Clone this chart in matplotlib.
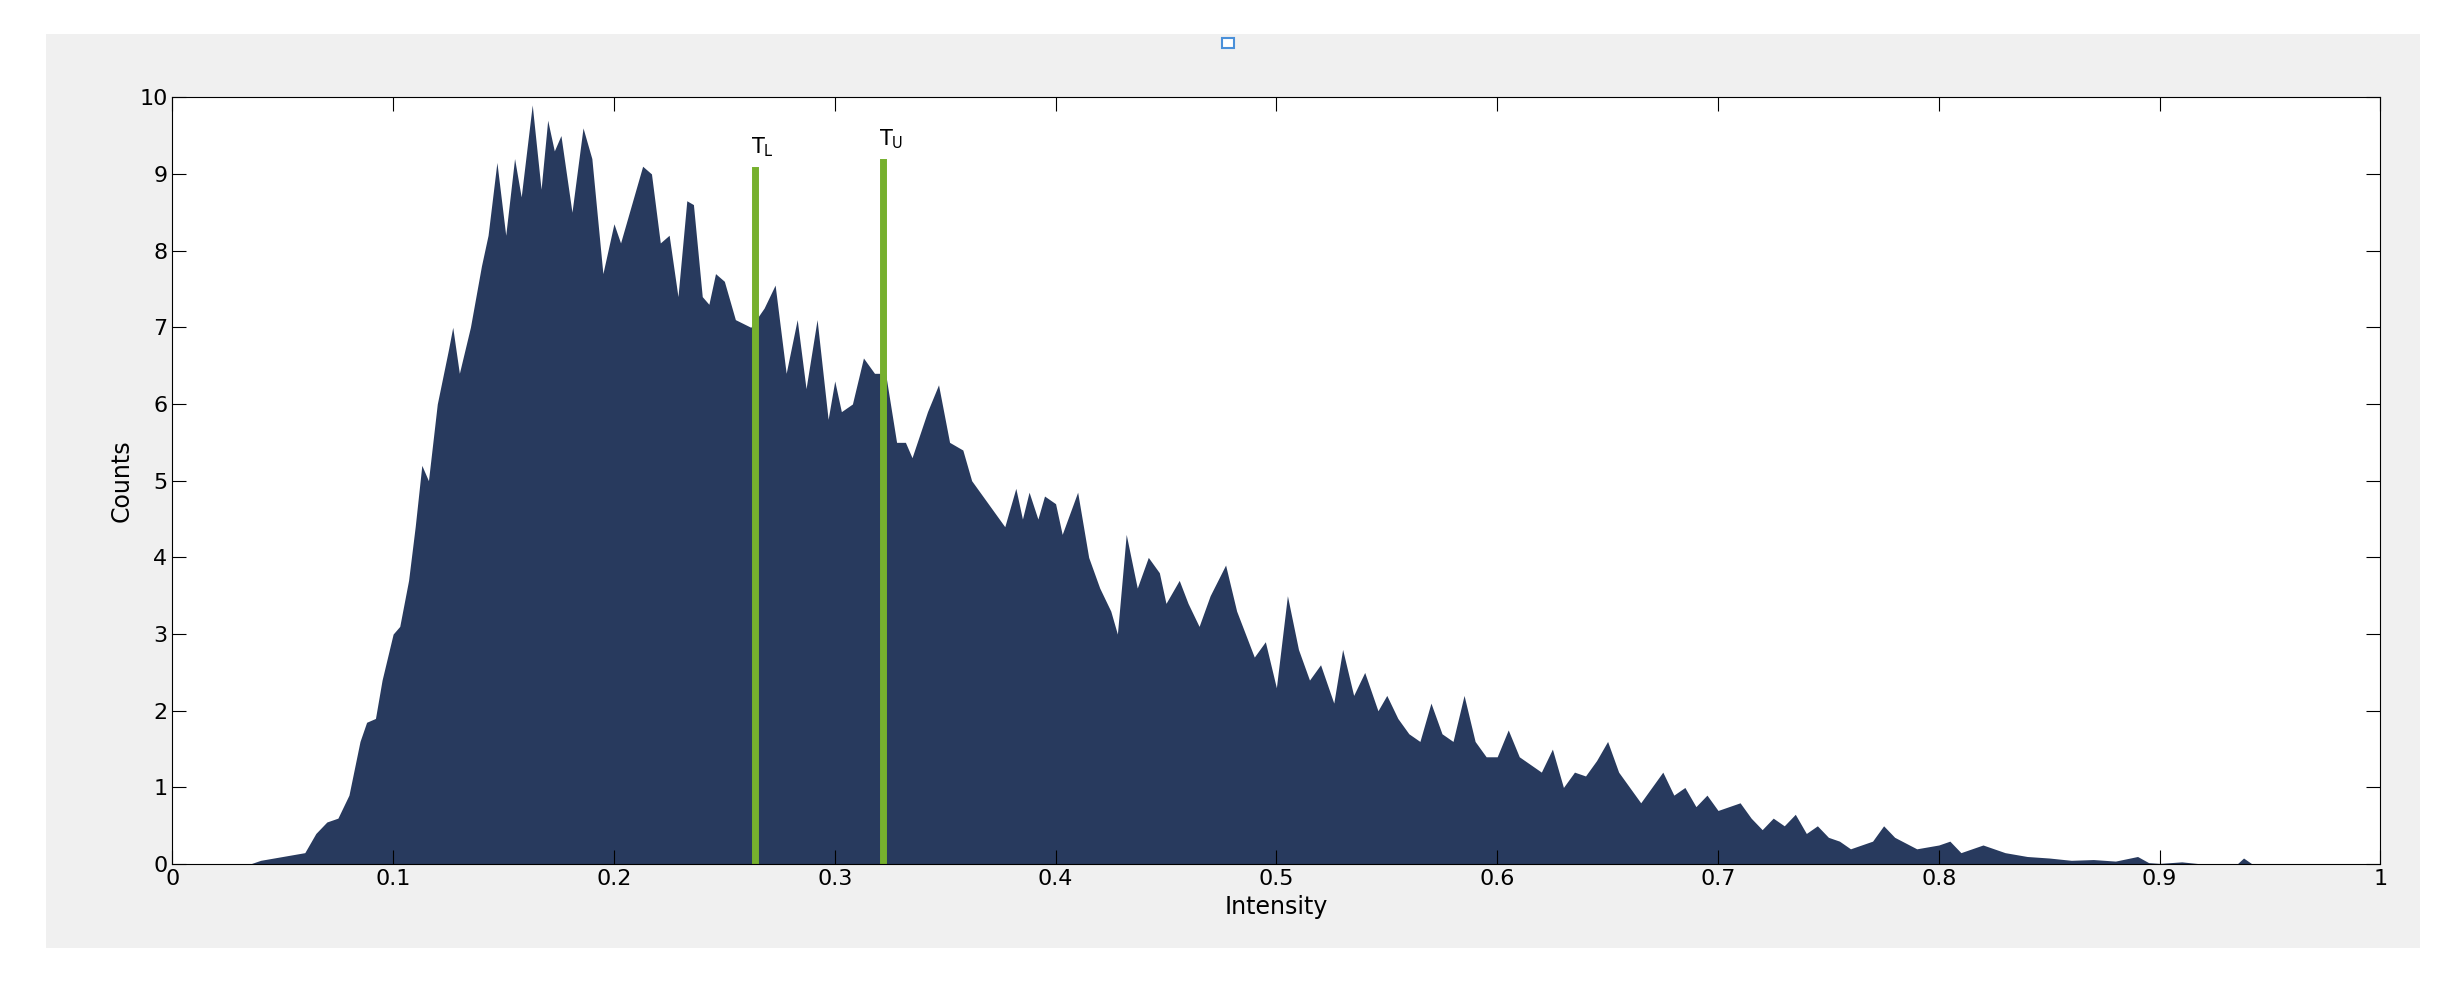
import matplotlib
matplotlib.use("Agg")
import matplotlib.pyplot as plt
from matplotlib.patches import Rectangle

# intensity histogram envelope
intensity = [0.035, 0.04, 0.05, 0.06, 0.065, 0.07, 0.075, 0.08, 0.085, 0.088, 0.092, 0.095,
             0.1, 0.103, 0.107, 0.11, 0.113, 0.116, 0.12, 0.125, 0.127, 0.13, 0.135, 0.14,
             0.143, 0.147, 0.151, 0.155, 0.158, 0.163, 0.167, 0.17, 0.173, 0.176, 0.181,
             0.186, 0.19, 0.195, 0.2, 0.203, 0.208, 0.213, 0.217, 0.221, 0.225, 0.229,
             0.233, 0.236, 0.24, 0.243, 0.246, 0.25, 0.255, 0.262, 0.268, 0.273, 0.278,
             0.283, 0.287, 0.292, 0.297, 0.3, 0.303, 0.308, 0.313, 0.318, 0.323, 0.328,
             0.332, 0.335, 0.342, 0.347, 0.352, 0.358, 0.362, 0.367, 0.372, 0.377, 0.382,
             0.385, 0.388, 0.392, 0.395, 0.4, 0.403, 0.41, 0.415, 0.42, 0.425, 0.428,
             0.432, 0.437, 0.442, 0.447, 0.45, 0.456, 0.46, 0.465, 0.47, 0.477, 0.482,
             0.49, 0.495, 0.5, 0.505, 0.51, 0.515, 0.52, 0.526, 0.53, 0.535, 0.54, 0.546,
             0.55, 0.555, 0.56, 0.565, 0.57, 0.575, 0.58, 0.585, 0.59, 0.595, 0.6, 0.605,
             0.61, 0.615, 0.62, 0.625, 0.63, 0.635, 0.64, 0.645, 0.65, 0.655, 0.66, 0.665,
             0.67, 0.675, 0.68, 0.685, 0.69, 0.695, 0.7, 0.71, 0.715, 0.72, 0.725, 0.73,
             0.735, 0.74, 0.745, 0.75, 0.755, 0.76, 0.77, 0.775, 0.78, 0.79, 0.8, 0.805,
             0.81, 0.82, 0.83, 0.84, 0.85, 0.86, 0.87, 0.88, 0.89, 0.895, 0.9, 0.91, 0.92,
             0.935, 0.938, 0.942, 0.95]
counts = [0, 0.05, 0.1, 0.15, 0.4, 0.55, 0.6, 0.9, 1.6, 1.85, 1.9, 2.4,
          3.0, 3.1, 3.7, 4.4, 5.2, 5.0, 6.0, 6.7, 7.0, 6.4, 7.0, 7.8,
          8.2, 9.15, 8.2, 9.2, 8.7, 9.9, 8.8, 9.7, 9.3, 9.5, 8.5,
          9.6, 9.2, 7.7, 8.35, 8.1, 8.6, 9.1, 9.0, 8.1, 8.2, 7.4,
          8.65, 8.6, 7.4, 7.3, 7.7, 7.6, 7.1, 7.0, 7.25, 7.55, 6.4,
          7.1, 6.2, 7.1, 5.8, 6.3, 5.9, 6.0, 6.6, 6.4, 6.4, 5.5,
          5.5, 5.3, 5.9, 6.25, 5.5, 5.4, 5.0, 4.8, 4.6, 4.4, 4.9,
          4.5, 4.85, 4.5, 4.8, 4.7, 4.3, 4.85, 4.0, 3.6, 3.3, 3.0,
          4.3, 3.6, 4.0, 3.8, 3.4, 3.7, 3.4, 3.1, 3.5, 3.9, 3.3,
          2.7, 2.9, 2.3, 3.5, 2.8, 2.4, 2.6, 2.1, 2.8, 2.2, 2.5, 2.0,
          2.2, 1.9, 1.7, 1.6, 2.1, 1.7, 1.6, 2.2, 1.6, 1.4, 1.4, 1.75,
          1.4, 1.3, 1.2, 1.5, 1.0, 1.2, 1.15, 1.35, 1.6, 1.2, 1.0, 0.8,
          1.0, 1.2, 0.9, 1.0, 0.75, 0.9, 0.7, 0.8, 0.6, 0.45, 0.6, 0.5,
          0.65, 0.4, 0.5, 0.35, 0.3, 0.2, 0.3, 0.5, 0.35, 0.2, 0.25, 0.3,
          0.15, 0.25, 0.15, 0.1, 0.08, 0.05, 0.06, 0.04, 0.1, 0.02, 0.01, 0.03, 0,
          0, 0.08, 0, 0]

thresholds = [0.264, 0.322]
threshold_tops = [9.05, 9.15]
threshold_labels = ["T$_\\mathregular{L}$", "T$_\\mathregular{U}$"]

fig = plt.figure(figsize=(24.44, 9.82), dpi=100)
fig.patches.append(Rectangle((0.019, 0.035), 0.971, 0.93, transform=fig.transFigure,
                             facecolor="#f0f0f0", edgecolor="none", zorder=-1))
fig.patches.append(Rectangle((0.5, 0.951), 0.005, 0.01, transform=fig.transFigure,
                             facecolor="white", edgecolor="#4a90d9", lw=1.5))

ax = fig.add_axes([0.0705, 0.12, 0.9035, 0.781])
ax.fill_between(intensity, counts, color="#283a5e", lw=0)
for x, top, lab in zip(thresholds, threshold_tops, threshold_labels):
    ax.plot([x, x], [0, top], color="#76b02d", lw=5)
    ax.text(x - 0.002, top + 0.15, lab, fontsize=15, ha="left", va="bottom")

ax.set_xlim(0, 1)
ax.set_ylim(0, 10)
ax.set_xticks([i / 10 for i in range(11)])
ax.set_xticklabels(["0", "0.1", "0.2", "0.3", "0.4", "0.5", "0.6", "0.7", "0.8", "0.9", "1"])
ax.set_yticks(range(11))
ax.tick_params(direction="in", length=10, labelsize=16, top=True, right=True)
ax.set_xlabel("Intensity", fontsize=17)
ax.set_ylabel("Counts", fontsize=17)

fig.savefig("out.png", dpi=100)
